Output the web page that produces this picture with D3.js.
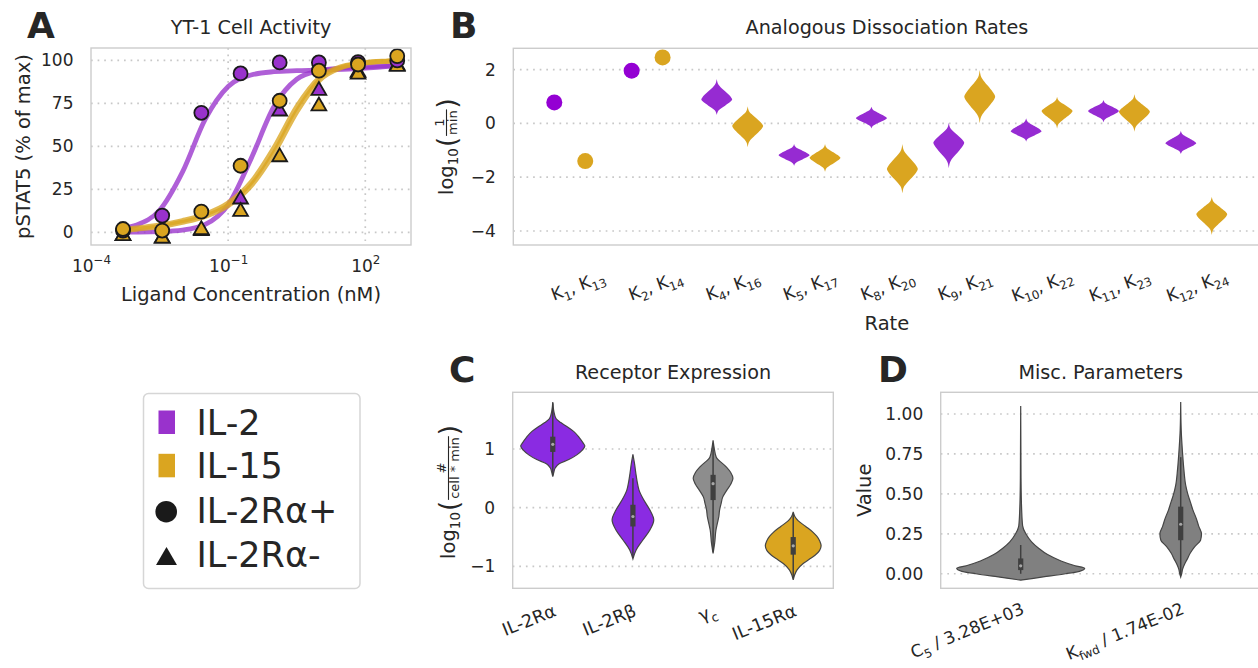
<!DOCTYPE html>
<html>
<head>
<meta charset="utf-8">
<script src="https://cdn.jsdelivr.net/npm/d3@7"></script>
<style>
  body { margin: 0; background: #fff; }
  svg { display: block; font-family: "DejaVu Sans", sans-serif; }
</style>
</head>
<body>
<svg id="fig" width="1258" height="668"></svg>
<script>
// ---------------- Panel A: YT-1 pSTAT5 dose response ----------------
const concentrations = [0.000501, 0.00361, 0.0259, 0.187, 1.34, 9.66, 69.5, 500]; // nM
const il2RaPosObs  = [1.0, 9.7, 69.5, 92.4, 98.8, 98.8, 99.0, 100.0];
const il15RaPosObs = [1.9, 1.0, 12.0, 38.7, 76.5, 94.0, 97.6, 102.5];
const il2RaNegObs  = [-1.5, -3.0, 1.5, 19.8, 71.0, 83.0, 93.5, 97.5];
const il15RaNegObs = [-1.5, -3.0, 2.0, 12.6, 44.4, 74.0, 92.4, 97.0];

// model fits, sampled at log10(nM)
const fitLogConc   = [-3.3, -3.0, -2.5, -2.0, -1.5, -1.0, -0.5, 0.0, 0.5, 1.0, 1.5, 2.0, 2.5, 2.7];
const il2RaPosFit  = [2.5, 4.3, 12.8, 35.0, 65.8, 84.8, 91.5, 93.4, 94.0, 94.3, 94.8, 95.5, 96.5, 97.0];
const il2RaNegFit  = [0.1, 0.15, 0.4, 1.3, 4.6, 16.0, 42.7, 73.0, 89.0, 94.0, 95.6, 96.3, 96.8, 97.0];
const il15RaPosFit = [1.5, 2.5, 4.2, 6.8, 10.5, 17.0, 29.0, 49.0, 73.0, 90.0, 96.5, 98.8, 99.7, 100.0];
const il15RaNegFit = [1.0, 1.8, 3.3, 5.8, 9.3, 15.5, 27.0, 46.0, 70.0, 88.5, 96.0, 98.5, 99.5, 99.8];

const pstatTicks = [0, 25, 50, 75, 100];
const concTickExps = [-4, -1, 2];

// ---------------- Panel B: analogous dissociation rates (log10 1/min) ----------------
const rateLabels = [["1","13"],["2","14"],["4","16"],["5","17"],["8","20"],["9","21"],["10","22"],["11","23"],["12","24"]];
const il2RateMed  = [0.78, 1.96, 0.89, -1.18, 0.19, -0.72, -0.29, 0.46, -0.74];
const il2RateHi   = [0.78, 1.96, 1.65, -0.77, 0.62, 0.02, 0.19, 0.87, -0.27];
const il2RateLo   = [0.78, 1.96, 0.31, -1.58, -0.19, -1.67, -0.68, 0.04, -1.14];
const il15RateMed = [-1.40, 2.45, -0.10, -1.28, -1.70, 0.99, 0.46, 0.43, -3.38];
const il15RateHi  = [-1.40, 2.45, 0.64, -0.77, -0.77, 1.98, 0.99, 1.08, -2.73];
const il15RateLo  = [-1.40, 2.45, -0.89, -1.80, -2.60, 0.00, -0.19, -0.31, -4.15];
// relative half-width going from the peak out to each tip, in tenths
const rateShape = [1, 0.93, 0.82, 0.68, 0.54, 0.39, 0.25, 0.13, 0.06, 0.025, 0];
const rateTicks = [2, 0, -2, -4];

// ---------------- Panel C: receptor expression ----------------
const receptorNames = [["IL-2R", "α", ""], ["IL-2R", "β", ""], ["γ", "", "c"], ["IL-15R", "α", ""]];
// [log10 value, half-width as fraction of the full violin width]
const il2raDensity = [[1.80,0],[1.65,0.03],[1.52,0.10],[1.45,0.25],[1.38,0.45],[1.30,0.65],[1.20,0.82],[1.10,0.95],[1.05,1.0],[0.98,0.92],[0.90,0.75],[0.82,0.50],[0.75,0.20],[0.68,0.08],[0.60,0.03],[0.53,0]];
const il2rbDensity = [[0.91,0],[0.75,0.05],[0.59,0.09],[0.45,0.13],[0.30,0.19],[0.13,0.34],[-0.04,0.53],[-0.21,0.65],[-0.38,0.53],[-0.55,0.31],[-0.72,0.10],[-0.87,0]];
const gcDensity    = [[1.15,0],[1.00,0.04],[0.86,0.10],[0.70,0.40],[0.60,0.55],[0.50,0.62],[0.40,0.55],[0.30,0.43],[0.18,0.30],[0.07,0.25],[-0.05,0.20],[-0.15,0.18],[-0.25,0.14],[-0.38,0.09],[-0.60,0.05],[-0.78,0]];
const il15raDensity= [[-0.07,0],[-0.15,0.05],[-0.22,0.15],[-0.32,0.39],[-0.42,0.62],[-0.49,0.74],[-0.57,0.83],[-0.65,0.87],[-0.73,0.82],[-0.81,0.68],[-0.88,0.50],[-0.95,0.31],[-1.06,0.12],[-1.15,0.04],[-1.23,0]];
// [whisker low, q1, median, q3, whisker high]
const receptorBoxes = [[0.55, 0.95, 1.08, 1.21, 1.78], [-0.85, -0.32, -0.15, 0.05, 0.50], [-0.75, 0.13, 0.41, 0.56, 1.10], [-1.20, -0.80, -0.65, -0.50, -0.10]];
const receptorTicks = [1, 0, -1];

// ---------------- Panel D: misc. parameters ----------------
const miscNames = [["C", "5", " / 3.28E+03"], ["K", "fwd", " / 1.74E-02"]];
const c5Density   = [[1.05,0],[0.60,0.005],[0.40,0.015],[0.30,0.03],[0.25,0.08],[0.20,0.17],[0.16,0.28],[0.12,0.42],[0.08,0.63],[0.05,0.85],[0.034,1.0],[0.015,0.92],[0.0,0.70],[-0.02,0.35],[-0.04,0]];
const kfwdDensity = [[1.075,0],[0.90,0.008],[0.75,0.03],[0.65,0.05],[0.55,0.08],[0.50,0.11],[0.45,0.15],[0.40,0.19],[0.35,0.24],[0.30,0.28],[0.25,0.325],[0.21,0.31],[0.17,0.22],[0.13,0.15],[0.09,0.10],[0.06,0.06],[0.03,0.03],[0.0,0.015],[-0.02,0]];
const miscBoxes = [[0.0, 0.023, 0.05, 0.096, 0.18], [-0.01, 0.21, 0.31, 0.42, 0.73]];
const miscTicks = [0, 0.25, 0.5, 0.75, 1.0];

// ---------------- style ----------------
const INK = "#262626", EDGE = "#cccccc", GRID = "#c8c8c8";
const PURPLE = "#9932CC", GOLD = "#DAA520", VIOLET = "#9400D3";
const PURPLE_V = "#962bd2", PURPLE_C = "#8a2be2", GREY_C = "#8d8d8d", GREY_D = "#808080";
const FONT = "DejaVu Sans";
const TICK = 17, CAT = 17.6, LABEL = 19.5, TITLE = 19.2;

const svg = d3.select("#fig");
svg.append("rect").attr("width", 1258).attr("height", 668).attr("fill", "#fff");

function gridH(vals, y, x0, x1) {
  svg.append("g").selectAll("line").data(vals).join("line")
    .attr("x1", x0).attr("x2", x1).attr("y1", d => y(d)).attr("y2", d => y(d))
    .attr("stroke", GRID).attr("stroke-width", 1.7).attr("stroke-dasharray", "1.7,4.9");
}
function gridV(vals, x, y0, y1) {
  svg.append("g").selectAll("line").data(vals).join("line")
    .attr("y1", y0).attr("y2", y1).attr("x1", d => x(d)).attr("x2", d => x(d))
    .attr("stroke", GRID).attr("stroke-width", 1.7).attr("stroke-dasharray", "1.7,4.9");
}
function frame(x0, y0, x1, y1) {
  svg.append("rect").attr("x", x0).attr("y", y0).attr("width", x1 - x0).attr("height", y1 - y0)
    .attr("fill", "none").attr("stroke", EDGE).attr("stroke-width", 1.4);
}
function styleAxis(g) {
  g.select(".domain").remove();
  g.attr("font-size", TICK).attr("font-family", FONT)
    .style("font-size", TICK + "px").style("font-family", FONT);
  g.selectAll("text").attr("fill", INK)
    .style("font-size", TICK + "px").style("font-family", FONT);
}
function leftAxis(y, x0, ticks, fmt) {
  const ax = d3.axisLeft(y).tickValues(ticks).tickSize(0).tickPadding(17.5).tickFormat(fmt);
  svg.append("g").attr("transform", `translate(${x0},0)`).call(ax).call(styleAxis);
}
function title(txt, x, y) {
  svg.append("text").attr("x", x).attr("y", y).attr("text-anchor", "middle")
    .attr("font-size", TITLE).attr("fill", INK).text(txt);
}
function panelLetter(txt, x, y) {
  svg.append("text").attr("x", x).attr("y", y).attr("font-size", 36).attr("font-weight", "bold")
    .attr("fill", INK).text(txt);
}
// text with sub/superscript pieces
function rich(sel, parts, base) {
  let shift = 0;
  sel.style("font-family", FONT).style("font-size", base + "px");
  parts.forEach(p => {
    if (!p.t) return;
    const small = p.sub || p.sup;
    const target = p.sub ? base * 0.28 : p.sup ? -base * 0.42 : 0;
    const ts = sel.append("tspan").text(p.t).style("font-size", (small ? base * 0.7 : base) + "px");
    if (target - shift !== 0) ts.attr("dy", target - shift);
    shift = target;
  });
}
// rotated log10(num/den) axis label
function fracLabel(cx, cy, num, den) {
  const outer = svg.append("g").attr("transform", `translate(${cx},${cy}) rotate(-90)`);
  const g = outer.append("g").attr("fill", INK);
  let x = 0;
  const put = (s, size, y) => {
    const t = g.append("text").attr("x", x).attr("y", y).attr("font-size", size).text(s);
    x += t.node().getComputedTextLength();
    return t;
  };
  put("log", LABEL, 0);
  put("10", 13.5, 4.5);
  x += 1;
  put("(", 26, 2.5);
  const fx = x + 1;
  const tn = g.append("text").attr("font-size", 13).attr("text-anchor", "middle").attr("y", -9).text(num);
  const td = g.append("text").attr("font-size", 13).attr("text-anchor", "middle").attr("y", 3.5).text(den);
  const fw = Math.max(tn.node().getComputedTextLength(), td.node().getComputedTextLength()) + 2;
  tn.attr("x", fx + fw / 2); td.attr("x", fx + fw / 2);
  g.append("line").attr("x1", fx).attr("x2", fx + fw).attr("y1", -6.5).attr("y2", -6.5)
    .attr("stroke", INK).attr("stroke-width", 1.1);
  x = fx + fw + 1;
  put(")", 26, 2.5);
  g.attr("transform", `translate(${-x / 2},0)`);
}
function violin(profile, cx, hw, y, fill, stroke) {
  const area = d3.area()
    .y(d => y(d[0]))
    .x0(d => cx - d[1] * hw)
    .x1(d => cx + d[1] * hw)
    .curve(d3.curveMonotoneY);
  svg.append("path").attr("d", area(profile)).attr("fill", fill)
    .attr("stroke", stroke || "none").attr("stroke-width", stroke ? 1.2 : 0);
}
function innerBox(b, cx, y) {
  const g = svg.append("g");
  g.append("line").attr("x1", cx).attr("x2", cx).attr("y1", y(b[0])).attr("y2", y(b[4]))
    .attr("stroke", "#3f3f3f").attr("stroke-width", 1.5);
  g.append("rect").attr("x", cx - 2.6).attr("width", 5.2).attr("y", y(b[3])).attr("height", y(b[1]) - y(b[3]))
    .attr("fill", "#3f3f3f");
  g.append("circle").attr("cx", cx).attr("cy", y(b[2])).attr("r", 1.6).attr("fill", "#ffffff").attr("opacity", 0.55);
}
function bottomAxis(x, y0, n) {
  const xa = svg.append("g").attr("transform", `translate(0,${y0})`)
    .call(d3.axisBottom(x).tickValues(d3.range(n)).tickSize(0).tickFormat(() => ""))
    .call(styleAxis);
  xa.selectAll(".tick text").remove();
  return xa;
}

// ================= Panel A =================
{
  const x = d3.scaleLog().domain([1e-4, 1e3]).range([91, 411]);
  const y = d3.scaleLinear().domain([-7.4, 107.2]).range([245, 48]);
  gridH(pstatTicks, y, 91, 411);
  gridV(concTickExps.slice(1).map(e => Math.pow(10, e)), x, 48, 245);
  leftAxis(y, 91, pstatTicks, d3.format("d"));
  const xa = svg.append("g").attr("transform", "translate(0,245)")
    .call(d3.axisBottom(x).tickValues(concTickExps.map(e => Math.pow(10, e))).tickSize(0).tickPadding(14.5).tickFormat(() => ""))
    .call(styleAxis);
  xa.selectAll(".tick text").each(function (d) {
    const e = Math.round(Math.log10(d));
    rich(d3.select(this), [{ t: "10" }, { t: (e < 0 ? "\u2212" : "") + Math.abs(e), sup: true }], TICK);
  });

  const line = d3.line().x(d => x(Math.pow(10, d[0]))).y(d => y(d[1])).curve(d3.curveMonotoneX);
  const fits = [
    [il2RaNegFit, PURPLE, 4.8], [il2RaPosFit, PURPLE, 4.8],
    [il15RaNegFit, GOLD, 5.0], [il15RaPosFit, GOLD, 5.0]
  ];
  fits.forEach(([vals, col, w]) => {
    svg.append("path").attr("d", line(fitLogConc.map((c, i) => [c, vals[i]])))
      .attr("fill", "none").attr("stroke", col).attr("stroke-width", w)
      .attr("stroke-opacity", 0.78).attr("stroke-linecap", "round");
  });

  const tri = d3.symbol().type(d3.symbolTriangle).size(95);
  [[il2RaNegObs, PURPLE], [il15RaNegObs, GOLD]].forEach(([vals, col]) => {
    svg.append("g").selectAll("path").data(vals).join("path")
      .attr("d", tri)
      .attr("transform", (d, i) => `translate(${x(concentrations[i])},${y(d) + 1})`)
      .attr("fill", col).attr("stroke", "#1a1a1a").attr("stroke-width", 1.8);
  });
  [[il2RaPosObs, PURPLE], [il15RaPosObs, GOLD]].forEach(([vals, col]) => {
    svg.append("g").selectAll("circle").data(vals).join("circle")
      .attr("cx", (d, i) => x(concentrations[i])).attr("cy", d => y(d)).attr("r", 7)
      .attr("fill", col).attr("stroke", "#1a1a1a").attr("stroke-width", 1.8);
  });
  frame(91, 48, 411, 245);
  title("YT-1 Cell Activity", 251, 34);
  svg.append("text").attr("x", 251).attr("y", 301).attr("text-anchor", "middle")
    .attr("font-size", LABEL).attr("fill", INK).text("Ligand Concentration (nM)");
  svg.append("text").attr("transform", "translate(30,146.5) rotate(-90)").attr("text-anchor", "middle")
    .attr("font-size", LABEL).attr("fill", INK).text("pSTAT5 (% of max)");
  panelLetter("A", 27, 38);
}

// ================= Panel B =================
{
  const x = d3.scaleLinear().domain([-0.83, 8.83]).range([513.3, 1260.5]);
  const y = d3.scaleLinear().domain([-4.52, 2.79]).range([245, 48.3]);
  const step = x(1) - x(0);
  gridH(rateTicks, y, 513.3, 1260.5);
  leftAxis(y, 513.3, rateTicks, d3.format("d"));

  const violinPts = (med, hi, lo) => {
    const pts = [];
    for (let k = 10; k >= 1; k--) pts.push([med + (k / 10) * (hi - med), rateShape[k]]);
    pts.push([med, 1]);
    for (let k = 1; k <= 10; k++) pts.push([med - (k / 10) * (med - lo), rateShape[k]]);
    return pts;
  };
  const series = [
    [il2RateMed, il2RateHi, il2RateLo, -1, PURPLE_V, VIOLET],
    [il15RateMed, il15RateHi, il15RateLo, 1, GOLD, GOLD]
  ];
  series.forEach(([med, hi, lo, side, col, dotCol]) => {
    med.forEach((m, i) => {
      if (hi[i] === lo[i]) {
        // posterior collapsed to a single value
        svg.append("circle").attr("cx", x(i - 0.1 + side * 0.2)).attr("cy", y(m)).attr("r", 8).attr("fill", dotCol);
      } else {
        violin(violinPts(m, hi[i], lo[i]), x(i + side * 0.2), step * 0.2, y, col);
      }
    });
  });

  const xa = bottomAxis(x, 245, rateLabels.length);
  xa.selectAll(".tick").append("text")
    .attr("transform", "translate(0,40.5) rotate(-20)")
    .attr("text-anchor", "middle").attr("dy", "0.35em").attr("fill", INK)
    .each(function (d) {
      const [a, b] = rateLabels[d];
      rich(d3.select(this), [{ t: "K" }, { t: a, sub: true }, { t: ", K" }, { t: b, sub: true }], TICK);
    });

  frame(513.3, 48.3, 1262, 245);
  title("Analogous Dissociation Rates", 886.9, 34);
  svg.append("text").attr("x", 886.9).attr("y", 330).attr("text-anchor", "middle")
    .attr("font-size", LABEL).attr("fill", INK).text("Rate");
  fracLabel(453, 146.6, "1", "min");
  panelLetter("B", 450, 38);
}

// ================= Panel C =================
{
  const x = d3.scaleLinear().domain([-0.5, 3.5]).range([512.7, 833.3]);
  const y = d3.scaleLinear().domain([-1.373, 1.966]).range([588.3, 392.3]);
  const hw = (x(1) - x(0)) * 0.4;
  gridH(receptorTicks, y, 512.7, 833.3);
  leftAxis(y, 512.7, receptorTicks, d3.format("d"));
  const profiles = [il2raDensity, il2rbDensity, gcDensity, il15raDensity];
  const fills = [PURPLE_C, PURPLE_C, GREY_C, GOLD];
  profiles.forEach((p, i) => {
    violin(p, x(i), hw, y, fills[i], "#454545");
    innerBox(receptorBoxes[i], x(i), y);
  });
  const xa = bottomAxis(x, 588.3, receptorNames.length);
  xa.selectAll(".tick").append("text")
    .attr("transform", "translate(4,27) rotate(-22)")
    .attr("text-anchor", "end").attr("fill", INK)
    .each(function (d) {
      const [a, b, c] = receptorNames[d];
      rich(d3.select(this), [{ t: a + b }, { t: c, sub: true }], CAT);
    });
  frame(512.7, 392.3, 833.3, 588.3);
  title("Receptor Expression", 673, 379);
  fracLabel(455, 492, "#", "cell * min");
  panelLetter("C", 449, 382);
}

// ================= Panel D =================
{
  const x = d3.scaleLinear().domain([-0.5, 1.5]).range([940.7, 1260.7]);
  const y = d3.scaleLinear().domain([-0.091, 1.136]).range([588.3, 392.3]);
  const hw = (x(1) - x(0)) * 0.4;
  gridH(miscTicks, y, 940.7, 1260.7);
  leftAxis(y, 940.7, miscTicks, d3.format(".2f"));
  [c5Density, kfwdDensity].forEach((p, i) => {
    violin(p, x(i), hw, y, GREY_D, "#454545");
    innerBox(miscBoxes[i], x(i), y);
  });
  const xa = bottomAxis(x, 588.3, miscNames.length);
  xa.selectAll(".tick").append("text")
    .attr("transform", "translate(4,25) rotate(-22)")
    .attr("text-anchor", "end").attr("fill", INK)
    .each(function (d) {
      const [a, b, c] = miscNames[d];
      rich(d3.select(this), [{ t: a }, { t: b, sub: true }, { t: c }], TICK);
    });
  frame(940.7, 392.3, 1262, 588.3);
  title("Misc. Parameters", 1100.7, 379);
  svg.append("text").attr("transform", "translate(870.5,490.3) rotate(-90)").attr("text-anchor", "middle")
    .attr("font-size", LABEL).attr("fill", INK).text("Value");
  panelLetter("D", 878, 382);
}

// ================= Legend =================
{
  const g = svg.append("g");
  g.append("rect").attr("x", 143.5).attr("y", 393.5).attr("width", 216.5).attr("height", 195).attr("rx", 5)
    .attr("fill", "#fff").attr("stroke", "#d6d6d6").attr("stroke-width", 1.5);
  const rows = [
    { label: "IL-2", kind: "patch", color: PURPLE, base: 435 },
    { label: "IL-15", kind: "patch", color: GOLD, base: 478.3 },
    { label: "IL-2R\u03b1+", kind: "circle", color: "#1a1a1a", base: 522.5 },
    { label: "IL-2R\u03b1-", kind: "triangle", color: "#1a1a1a", base: 566.5 }
  ];
  rows.forEach(r => {
    if (r.kind === "patch") {
      g.append("rect").attr("x", 158.5).attr("y", r.base - 24.5).attr("width", 16.5).attr("height", 23.5).attr("fill", r.color);
    } else if (r.kind === "circle") {
      g.append("circle").attr("cx", 166.2).attr("cy", r.base - 10.8).attr("r", 10.8).attr("fill", r.color);
    } else {
      g.append("path").attr("d", d3.symbol().type(d3.symbolTriangle).size(190)())
        .attr("transform", `translate(166.5,${r.base - 7.5})`).attr("fill", r.color);
    }
    g.append("text").attr("x", 196.5).attr("y", r.base).attr("font-size", 35).attr("fill", INK).text(r.label);
  });
}
</script>
</body>
</html>
